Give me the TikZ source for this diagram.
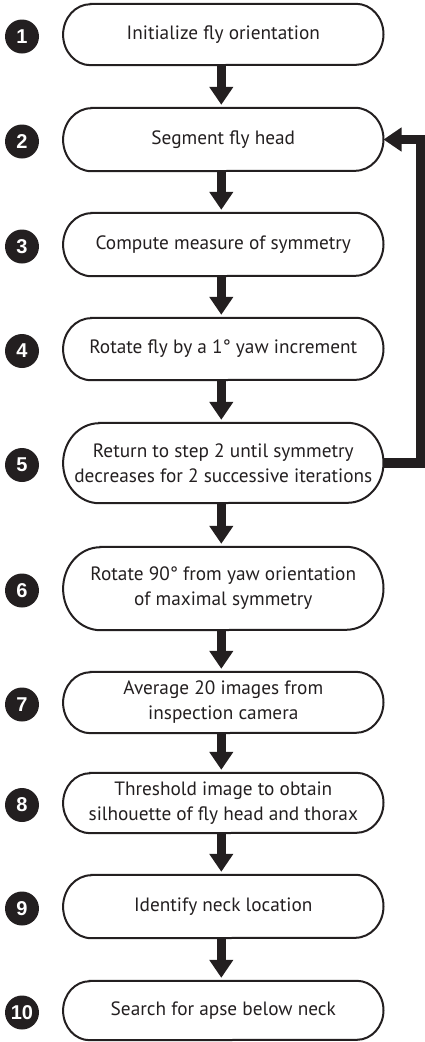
\documentclass[tikz,border=0pt]{standalone}
\usepackage{fontspec}
\setmainfont{PT Sans}
\newfontfamily\numfont{Liberation Sans}
\usetikzlibrary{arrows.meta}
\definecolor{ink}{HTML}{231F20}

% one step of the procedure: name, number, centre y, height, text
\newcommand\flowstep[5]{%
  \node[boxtext, minimum height=#4pt] (#1) at (223.3,-#3) {#5};
  \pgfmathsetmacro\rx{0.45*#4}%
  \pgfmathsetmacro\ry{#4/2}%
  \draw[boxline] ([xshift=\rx pt]#1.north west) -- ([xshift=-\rx pt]#1.north east)
    arc[start angle=90, end angle=-90, x radius=\rx pt, y radius=\ry pt]
    -- ([xshift=\rx pt]#1.south west)
    arc[start angle=270, end angle=90, x radius=\rx pt, y radius=\ry pt] -- cycle;
  \node[numdot] (#1n) at (22,-#3-2) {#2};
}

\begin{document}
\begin{tikzpicture}[x=1pt, y=1pt,
  boxtext/.style={minimum width=320pt, inner sep=0pt, align=center,
    font=\fontsize{19.3}{25}\selectfont, text=ink},
  boxline/.style={draw=ink, line width=2pt},
  numdot/.style={circle, fill=ink, minimum size=34pt, inner sep=0pt, text=white,
    font=\numfont\bfseries\fontsize{20}{20}\selectfont},
  flow/.style={draw=ink, line width=9pt, -{Triangle[length=18pt, width=23pt]}},
  loopline/.style={draw=ink, line width=9.5pt, line join=miter,
    -{Triangle[length=18pt, width=23pt]}}]
\useasboundingbox (0,0) rectangle (425,-1042);

\flowstep{s1}{1}{34.5}{61}{Initialize fly orientation}
\flowstep{s2}{2}{139.5}{63}{Segment fly head}
\flowstep{s3}{3}{244.5}{63}{Compute measure of symmetry}
\flowstep{s4}{4}{349}{62}{Rotate fly by a 1° yaw increment}
\flowstep{s5}{5}{463}{80}{Return to step 2 until symmetry\\decreases for 2 successive iterations}
\flowstep{s6}{6}{588.5}{83}{Rotate 90° from yaw orientation\\of maximal symmetry}
\flowstep{s7}{7}{702.5}{61}{Average 20 images from\\inspection camera}
\flowstep{s8}{8}{803}{60}{Threshold image to obtain\\silhouette of fly head and thorax}
\flowstep{s9}{9}{906.5}{63}{Identify neck location}
\flowstep{s10}{10}{1010.5}{59}{Search for apse below neck}

% downward connectors between consecutive steps
\foreach \a/\b in {s1/s2, s2/s3, s3/s4, s4/s5, s5/s6, s6/s7, s7/s8, s8/s9, s9/s10}
  \draw[flow] ([xshift=-2pt]\a.south) -- ([xshift=-2pt, yshift=3pt]\b.north);

% feedback loop from step 5 back to step 2
\coordinate (turn) at (420.5,-463);
\draw[loopline] (s5.east) -- (turn) |- (s2.east);
\end{tikzpicture}
\end{document}
